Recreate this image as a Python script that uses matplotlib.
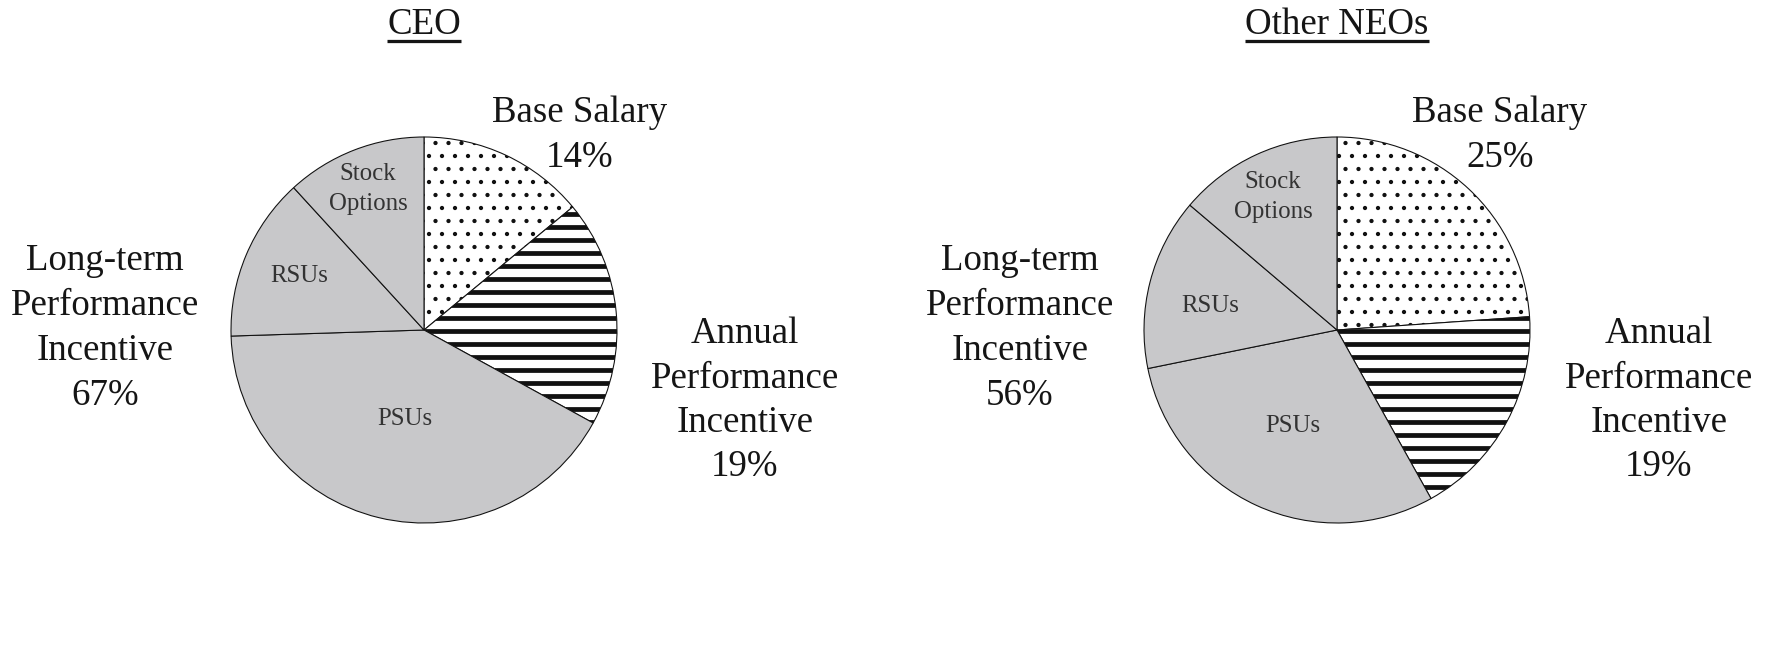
import matplotlib
matplotlib.use("Agg")
import matplotlib.pyplot as plt
from matplotlib.lines import Line2D

plt.rcParams['font.family'] = ['Liberation Serif', 'DejaVu Serif']

# pay components, clockwise from 12 o'clock
components = ["Base Salary", "Annual Performance Incentive", "PSUs", "RSUs", "Stock Options"]
ceo_mix = [14.0, 19.0, 41.5, 13.7, 11.8]
neo_mix = [23.9, 18.0, 29.9, 14.4, 13.8]

# printed percentages: base salary, annual incentive, long-term incentive
ceo_pct = ["14%", "19%", "67%"]
neo_pct = ["25%", "19%", "56%"]

inner_names = ["PSUs", "RSUs", "Stock\nOptions"]
titles = ["CEO", "Other NEOs"]

W, H = 1779, 648
DPI = 78
GRAY = "#c8c8ca"
R = 193

fig = plt.figure(figsize=(W / DPI, H / DPI), dpi=DPI)


def fig_xy(x, y):
    # pixel position (from top-left) -> figure fraction
    return x / W, 1 - y / H


def put(x, y, s, size, color="#151515"):
    fx, fy = fig_xy(x, y)
    return fig.text(fx, fy, s, ha="center", va="baseline", fontsize=size, color=color)


def draw_pie(cx, cy, mix):
    ax = fig.add_axes([(cx - R) / W, (H - cy - R) / H, 2 * R / W, 2 * R / H])
    colors = ["white", "white", GRAY, GRAY, GRAY]
    wedges, _ = ax.pie(mix, colors=colors, startangle=90, counterclock=False,
                       wedgeprops={"edgecolor": "#111111", "linewidth": 1.0, "clip_on": False})
    for w, h, hl in zip(wedges, [".", "-", "", "", ""], [1.5, 4.4, 1, 1, 1]):
        w.set_hatch(h)
        if hasattr(w, "set_hatch_linewidth"):
            w.set_hatch_linewidth(hl)
    ax.set_xlim(-1, 1)
    ax.set_ylim(-1, 1)
    return ax


draw_pie(424, 330, ceo_mix)
draw_pie(1337, 330, neo_mix)

BIG = 34
SMALL = 23
STEP = 45

# CEO labels
put(580, 122, "Base Salary", BIG)
put(580, 122 + STEP, ceo_pct[0], BIG)
for i, s in enumerate(["Annual", "Performance", "Incentive", ceo_pct[1]]):
    put(745, 343 + 44.5 * i, s, BIG)
for i, s in enumerate(["Long-term", "Performance", "Incentive", ceo_pct[2]]):
    put(105, 270 + STEP * i, s, BIG)

# Other NEOs labels
put(1500, 122, "Base Salary", BIG)
put(1500, 122 + STEP, neo_pct[0], BIG)
for i, s in enumerate(["Annual", "Performance", "Incentive", neo_pct[1]]):
    put(1659, 343 + 44.5 * i, s, BIG)
for i, s in enumerate(["Long-term", "Performance", "Incentive", neo_pct[2]]):
    put(1020, 270 + STEP * i, s, BIG)

# names inside the grey slices
inner = [(405, 425, 299, 282, 368, 180), (1293, 432, 1210, 312, 1273, 188)]
for px, py, rx, ry, sx, sy in inner:
    put(px, py, inner_names[0], SMALL, "#333333")
    put(rx, ry, inner_names[1], SMALL, "#333333")
    put(sx, sy, "Stock", SMALL, "#333333")
    put(sx, sy + 30, "Options", SMALL, "#333333")

# underlined titles
title_texts = [put(424, 34, titles[0], BIG), put(1337, 34, titles[1], BIG)]
fig.canvas.draw()
for t in title_texts:
    bb = t.get_window_extent()
    uy = 1 - 41 / H
    fig.add_artist(Line2D([bb.x0 / W, bb.x1 / W], [uy, uy], transform=fig.transFigure,
                          color="#151515", linewidth=3.0, solid_capstyle="butt"))

fig.savefig("out.png", dpi=DPI, facecolor="white")
